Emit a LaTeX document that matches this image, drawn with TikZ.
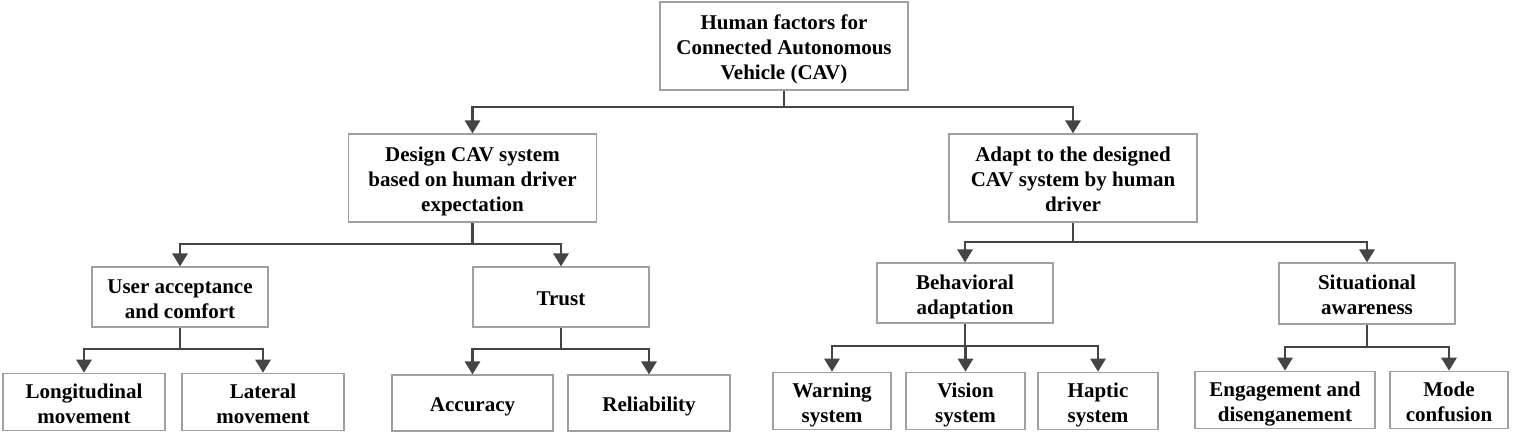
\documentclass[tikz,border=0pt]{standalone}
\usepackage{fontspec}
\setmainfont{Liberation Serif}
\usetikzlibrary{arrows.meta}
\definecolor{linec}{HTML}{444444}
\definecolor{boxc}{HTML}{A0A0A0}
\newcommand{\boxtext}[1]{\begin{tabular}{@{}c@{}}\rule{0pt}{25pt}#1\end{tabular}}
\tikzset{
  box/.style={draw=boxc, line width=1.1pt, fill=white, inner sep=0pt,
    font=\bfseries\fontsize{21}{25}\selectfont},
  conn/.style={draw=linec, line width=2.8pt},
  arr/.style={conn, -{Triangle[width=15pt,length=13pt]}},
}
\begin{document}
\begin{tikzpicture}[x=1pt,y=-1pt]
\useasboundingbox (0,0) rectangle (1531,434);
\fill[white] (0,0) rectangle (1531,434);
% level 1
\node[box, minimum width=248pt, minimum height=88pt] (root) at (784,46) {\boxtext{Human factors for\\Connected Autonomous\\Vehicle (CAV)}};
% level 2
\node[box, minimum width=248pt, minimum height=88pt] (design) at (472.5,178) {\boxtext{Design CAV system\\based on human driver\\expectation}};
\node[box, minimum width=248pt, minimum height=88pt] (adapt) at (1073,178) {\boxtext{Adapt to the designed\\CAV system by human\\driver}};
% level 3
\node[box, minimum width=176pt, minimum height=60pt] (user) at (180,297) {\boxtext{User acceptance\\and comfort}};
\node[box, minimum width=176pt, minimum height=60pt] (trust) at (561,297) {\boxtext{Trust}};
\node[box, minimum width=176pt, minimum height=60pt] (behav) at (965,293) {\boxtext{Behavioral\\adaptation}};
\node[box, minimum width=176pt, minimum height=61pt] (situ) at (1367,293.5) {\boxtext{Situational\\awareness}};
% level 4
\node[box, minimum width=162pt, minimum height=56pt] (longi) at (84,402) {\boxtext{Longitudinal\\movement}};
\node[box, minimum width=162pt, minimum height=56pt] (lat) at (263,402) {\boxtext{Lateral\\movement}};
\node[box, minimum width=161pt, minimum height=56pt] (acc) at (472.5,403) {\boxtext{Accuracy}};
\node[box, minimum width=162pt, minimum height=56pt] (rel) at (649,403) {\boxtext{Reliability}};
\node[box, minimum width=118pt, minimum height=56pt] (warn) at (832,401) {\boxtext{Warning\\system}};
\node[box, minimum width=119pt, minimum height=56pt] (vis) at (965.5,401) {\boxtext{Vision\\system}};
\node[box, minimum width=120pt, minimum height=56pt] (hap) at (1098,401) {\boxtext{Haptic\\system}};
\node[box, minimum width=180pt, minimum height=56pt] (eng) at (1285,400) {\boxtext{Engagement and\\disenganement}};
\node[box, minimum width=118pt, minimum height=56pt] (mode) at (1449,400) {\boxtext{Mode\\confusion}};
% junctions
\coordinate (j0) at (784,107);
\coordinate (j1) at (472.5,244);
\coordinate (j2) at (1073,242);
\coordinate (j3) at (180,349);
\coordinate (j4) at (561,349);
\coordinate (j5) at (965,346);
\coordinate (j6) at (1367,347);
% connectors
\draw[conn] (root.south) -- (j0);
\draw[arr] (j0) -| (design.north);
\draw[arr] (j0) -| (adapt.north);
\draw[conn] (design.south) -- (j1);
\draw[arr] (j1) -| (user.north);
\draw[arr] (j1) -| (trust.north);
\draw[conn] (adapt.south) -- (j2);
\draw[arr] (j2) -| (behav.north);
\draw[arr] (j2) -| (situ.north);
\draw[conn] (user.south) -- (j3);
\draw[arr] (j3) -| (longi.north);
\draw[arr] (j3) -| (lat.north);
\draw[conn] (trust.south) -- (j4);
\draw[arr] (j4) -| (acc.north);
\draw[arr] (j4) -| (rel.north);
\draw[conn] (behav.south) -- (j5);
\draw[arr] (j5) -| (warn.north);
\draw[arr] (j5) -| (vis.north);
\draw[arr] (j5) -| (hap.north);
\draw[conn] (situ.south) -- (j6);
\draw[arr] (j6) -| (eng.north);
\draw[arr] (j6) -| (mode.north);
\end{tikzpicture}
\end{document}
